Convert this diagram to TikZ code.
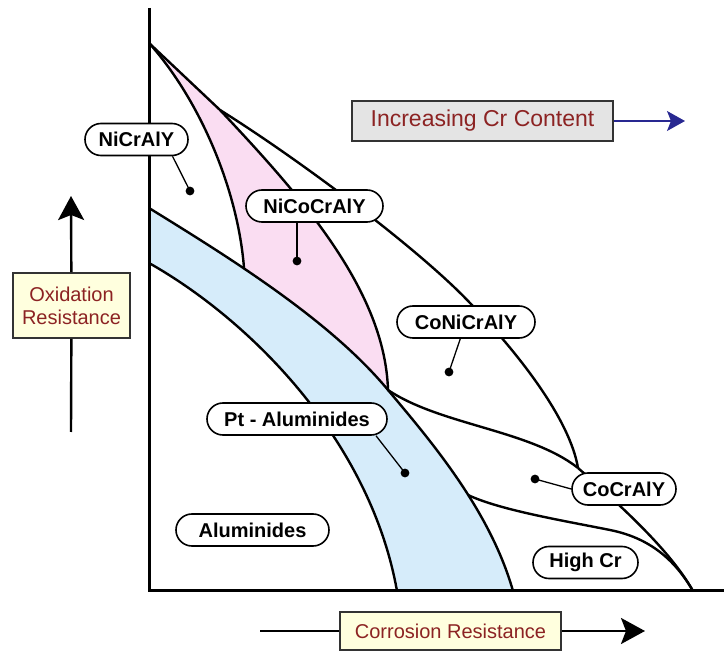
\documentclass[tikz,border=0pt]{standalone}
\usepackage{fontspec}
\setmainfont{Liberation Sans}
\usetikzlibrary{arrows.meta}

\definecolor{rosa}{RGB}{250,221,242}
\definecolor{azzurro}{RGB}{214,236,250}
\definecolor{crema}{RGB}{255,255,222}
\definecolor{grigio}{RGB}{228,228,228}
\definecolor{rossoscuro}{RGB}{140,35,35}
\definecolor{blu}{RGB}{40,40,145}

\begin{document}
\begin{tikzpicture}[x=0.5pt, y=-0.5pt,
	curva/.style={line width=1.2pt, line join=round},
	etichetta/.style={draw, line width=0.8pt, fill=white, rounded corners=8pt, minimum height=16pt, inner sep=0pt, font=\bfseries\fontsize{10}{12}\selectfont},
	scatola/.style={draw=black!80, line width=0.8pt, fill=crema, text=rossoscuro, inner sep=0pt, align=center, font=\fontsize{10}{11.5}\selectfont},
	freccia/.style={line width=1.2pt, -{Stealth[length=12pt, width=13pt, inset=2.5pt]}},
	richiamo/.style={line width=0.65pt}]
	
	\useasboundingbox (0,0) rectangle (724,652);
	
	% Regioni colorate
	\fill[rosa] (149,43) .. controls (200,100) and (238,190) .. (244,268) -- (250,290) -- (395,410) -- (388,390)
		.. controls (385,290) and (300,195) .. (220,110) -- cycle;
	\fill[azzurro] (149,208) .. controls (230,258) and (330,320) .. (388,390) .. controls (430,440) and (490,510) .. (513,591)
		-- (397,591) .. controls (370,440) and (250,320) .. (149,263) -- cycle;
	
	% Confini
	\draw[curva] (149,43) .. controls (200,100) and (238,190) .. (244,268);
	\draw[curva] (220,110) .. controls (300,195) and (385,290) .. (388,390);
	\draw[curva] (149,43) -- (220,110) .. controls (300,160) and (420,250) .. (470,303) .. controls (520,355) and (570,420) .. (578,468);
	\draw[curva] (578,468) .. controls (620,505) and (670,550) .. (693,591);
	\draw[curva] (388,390) .. controls (440,425) and (530,430) .. (578,468);
	\draw[curva] (468,495) .. controls (500,510) and (560,520) .. (610,530) .. controls (650,538) and (675,560) .. (693,591);
	\draw[curva] (149,208) .. controls (230,258) and (330,320) .. (388,390) .. controls (430,440) and (490,510) .. (513,591);
	\draw[curva] (149,263) .. controls (250,320) and (370,440) .. (397,591);
	
	% Assi
	\draw[line width=1.5pt] (149,8) -- (149,591) -- (724,591);
	
	% Punti
	\coordinate (d1) at (190,191);
	\coordinate (d2) at (297,261);
	\coordinate (d3) at (449,372);
	\coordinate (d4) at (405,473);
	\coordinate (d5) at (535,479);
	\foreach \p in {d1,d2,d3,d4,d5}
		\fill (\p) circle (2.2pt);
	
	% Etichette delle leghe
	\node[etichetta, minimum width=51.5pt] (nicraly) at (136.5,139.5) {NiCrAlY};
	\node[etichetta, minimum width=68.5pt] (nicocraly) at (314.5,206) {NiCoCrAlY};
	\node[etichetta, minimum width=69pt] (conicraly) at (466,322) {CoNiCrAlY};
	\node[etichetta, minimum width=90pt] (ptal) at (297,419) {Pt - Aluminides};
	\node[etichetta, minimum width=52pt] (cocraly) at (624,489) {CoCrAlY};
	\node[etichetta, minimum width=76.5pt] (al) at (252.5,530) {Aluminides};
	\node[etichetta, minimum width=52.5pt] (highcr) at (585.5,562.5) {High Cr};
	
	\draw[richiamo] (nicraly.-25) -- (d1);
	\draw[richiamo] (nicocraly.south -| d2) -- (d2);
	\draw[richiamo] (conicraly) -- (d3);
	\draw[richiamo] (ptal.-12) -- (d4);
	\draw[richiamo] (cocraly.west) -- (d5);
	
	% Frecce con le indicazioni
	\node[scatola, minimum width=58.5pt, minimum height=32.5pt] (ossid) at (71.5,305.5) {Oxidation\\Resistance};
	\coordinate (ox0) at (71,432);
	\coordinate (ox1) at (71,196);
	\draw[line width=1.2pt] (ox0) -- (ossid);
	\draw[freccia] (ossid) -- (ox1);
	
	\node[scatola, minimum width=110.5pt, minimum height=19pt] (corros) at (450.5,631) {Corrosion Resistance};
	\coordinate (co0) at (260,631);
	\coordinate (co1) at (645,631);
	\draw[line width=1.2pt] (co0) -- (corros);
	\draw[freccia] (corros) -- (co1);
	
	\node[scatola, fill=grigio, minimum width=130.5pt, minimum height=20pt, font=\fontsize{11.5}{13}\selectfont] (cromo) at (482.5,121) {Increasing Cr Content};
	\coordinate (cr1) at (685,121);
	\draw[blu, line width=0.7pt, -{Stealth[length=9pt, width=10pt, inset=2pt]}] (cromo) -- (cr1);
\end{tikzpicture}
\end{document}
